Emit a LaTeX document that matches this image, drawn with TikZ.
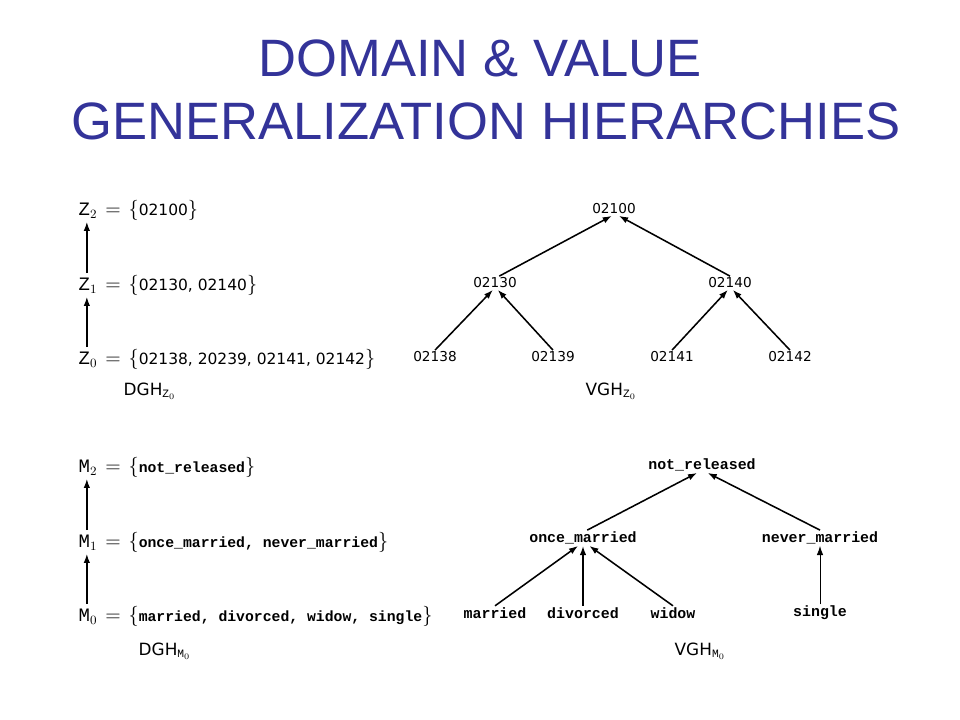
\documentclass[tikz,border=0pt]{standalone}
\usepackage{fontspec}
\newfontfamily\titlefont{Liberation Sans}
\newfontfamily\digfont{DejaVu Sans}
\setmonofont{Liberation Mono}
\usetikzlibrary{arrows.meta}
\definecolor{titleblue}{RGB}{51,51,153}
\newcommand{\rowdig}{\digfont\fontsize{11}{13}\selectfont}
\newcommand{\rowword}{\ttfamily\bfseries\fontsize{10.5}{13}\selectfont}
\newcommand{\gap}{\hspace{0.42em}}
\begin{document}
\begin{tikzpicture}[x=0.025cm, y=-0.025cm,
		up/.style={-{Latex[length=6.5pt,width=4.6pt]}, line width=1.1pt},
		num/.style={font=\digfont\fontsize{9.7}{11}\selectfont, inner sep=1pt},
		word/.style={font=\ttfamily\bfseries\fontsize{10.6}{12}\selectfont, inner sep=1pt},
		row/.style={anchor=west, inner sep=1pt, font=\fontsize{13.5}{15}\selectfont},
		hier/.style={font=\digfont\fontsize{12}{14}\selectfont, inner sep=1pt}]
		
		\useasboundingbox (0,0) rectangle (960,720);
		
		% title
		\node[anchor=base, text=titleblue, font=\titlefont\fontsize{37.4}{44}\selectfont] (title1) at (480,77) {DOMAIN \& VALUE};
		\node[anchor=base, text=titleblue, font=\titlefont\fontsize{37.4}{44}\selectfont] (title2) at (486,140) {GENERALIZATION HIERARCHIES};
		
		% DGH of Z
		\node[row] (z2) at (77,210) {\texttt{Z}$_2$\gap$=$\gap$\{${\rowdig 02100}$\}$};
		\node[row] (z1) at (77,285) {\texttt{Z}$_1$\gap$=$\gap$\{${\rowdig 02130, 02140}$\}$};
		\node[row] (z0) at (77,359) {\texttt{Z}$_0$\gap$=$\gap$\{${\rowdig 02138, 20239, 02141, 02142}$\}$};
		\node[hier, anchor=west] (dghz) at (122,391) {DGH$_{\mathtt{Z}_0}$};
		
		\draw[up] ([xshift=7pt]z0.north west) -- ([xshift=7pt]z1.south west);
		\draw[up] ([xshift=7pt]z1.north west) -- ([xshift=7pt]z2.south west);
		
		% VGH of Z
		\node[num] (r100) at (614,209) {02100};
		\node[num] (r130) at (495,283) {02130};
		\node[num] (r140) at (730,283) {02140};
		\node[num] (r138) at (435,357) {02138};
		\node[num] (r139) at (553,357) {02139};
		\node[num] (r141) at (672,357) {02141};
		\node[num] (r142) at (790,357) {02142};
		\node[hier] (vghz) at (611,391) {VGH$_{\mathtt{Z}_0}$};
		
		\draw[up] ([xshift=3pt]r130.north) -- ([xshift=-1.5pt]r100.south);
		\draw[up] (r140.north) -- ([xshift=3.5pt]r100.south);
		\draw[up] (r138.north) -- ([xshift=-1.5pt]r130.south);
		\draw[up] (r139.north) -- ([xshift=2pt]r130.south);
		\draw[up] (r141.north) -- ([xshift=-1.5pt]r140.south);
		\draw[up] (r142.north) -- ([xshift=2pt]r140.south);
		
		% DGH of M
		\node[row] (m2) at (77,467) {\texttt{M}$_2$\gap$=$\gap$\{${\rowword not\_released}$\}$};
		\node[row] (m1) at (77,542) {\texttt{M}$_1$\gap$=$\gap$\{${\rowword once\_married, never\_married}$\}$};
		\node[row] (m0) at (77,616) {\texttt{M}$_0$\gap$=$\gap$\{${\rowword married, divorced, widow, single}$\}$};
		\node[hier, anchor=west] (dghm) at (137,651) {DGH$_{\mathtt{M}_0}$};
		
		\draw[up] ([xshift=7pt]m0.north west) -- ([xshift=7pt]m1.south west);
		\draw[up] ([xshift=7pt]m1.north west) -- ([xshift=7pt]m2.south west);
		
		% VGH of M
		\node[word] (nrel) at (702,465) {not\_released};
		\node[word] (once) at (583,538) {once\_married};
		\node[word] (never) at (820,538) {never\_married};
		\node[word] (mar) at (495,613) {married};
		\node[word] (div) at (583,613) {divorced};
		\node[word] (wid) at (673,613) {widow};
		\node[word] (sgl) at (820,613) {single};
		\node[hier] (vghm) at (700,651) {VGH$_{\mathtt{M}_0}$};
		
		\draw[up] ([xshift=3pt]once.north) -- ([xshift=-3.5pt]nrel.south);
		\draw[up] (never.north) -- ([xshift=4pt]nrel.south);
		\draw[up] (mar.north) -- ([xshift=-3.5pt]once.south);
		\draw[up] (div.north) -- (once.south);
		\draw[up] (wid.north) -- ([xshift=4.5pt]once.south);
		\draw[up, line width=0.6pt] (sgl.north) -- (never.south);
		
	\end{tikzpicture}
\end{document}
